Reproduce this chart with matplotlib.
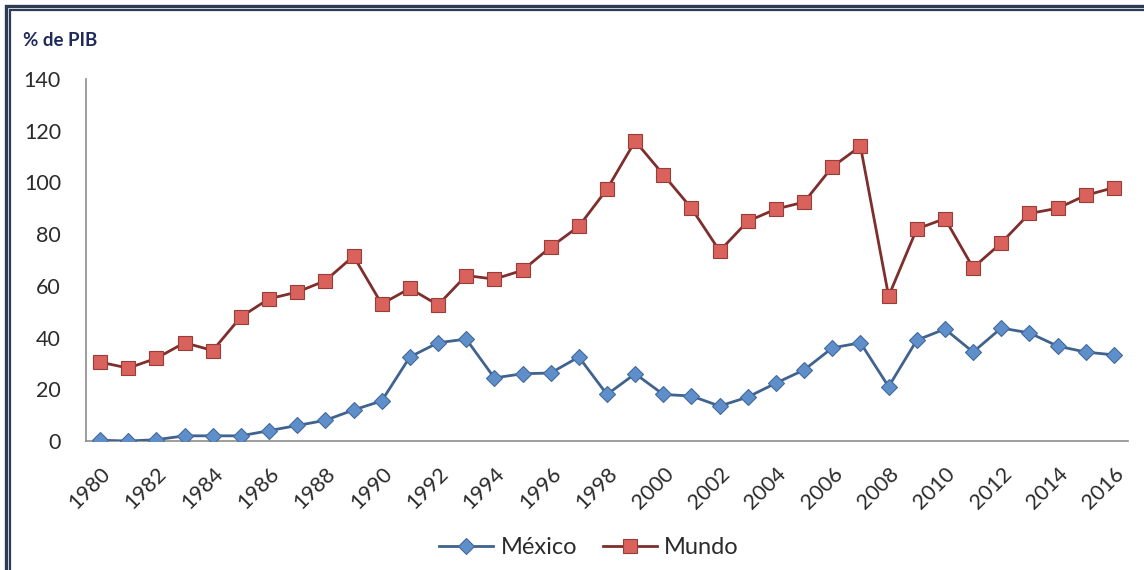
import matplotlib
matplotlib.use("Agg")
import matplotlib.pyplot as plt
from matplotlib.patches import Rectangle

years = list(range(1980, 2017))
mexico = [0.3, 0.0, 0.5, 2.0, 2.0, 2.0, 4.0, 6.0, 8.0, 12.0, 15.5, 32.5, 38.0, 39.4,
          24.4, 26.0, 26.3, 32.5, 18.0, 26.0, 18.0, 17.4, 13.5, 17.0, 22.4, 27.5,
          36.0, 38.0, 21.0, 39.0, 43.3, 34.4, 43.7, 41.8, 36.7, 34.4, 33.3]
mundo = [30.5, 28.2, 32.0, 38.0, 35.0, 48.0, 55.0, 57.6, 62.0, 71.5, 53.0, 59.0, 52.6,
         64.0, 62.6, 66.0, 75.0, 83.0, 97.4, 116.0, 103.0, 90.0, 73.5, 85.0, 89.7,
         92.4, 106.0, 114.0, 56.0, 82.0, 86.0, 67.0, 76.6, 88.0, 90.0, 95.0, 98.0]
x_ticks = list(range(1980, 2017, 2))
y_ticks = list(range(0, 141, 20))

plt.rcParams['font.family'] = ['Lato', 'DejaVu Sans']

W, H = 1144, 570
fig = plt.figure(figsize=(W / 100, H / 100), dpi=100)
fig.patch.set_facecolor('white')

# double navy frame (left and top edges visible)
navy = '#2E3B55'
for off, lw in ((6, 2.4), (10, 1.6)):
    fig.add_artist(Rectangle((off / W, -0.1), 1.2, 1 - off / H + 0.1,
                             transform=fig.transFigure, fill=False,
                             edgecolor=navy, linewidth=lw))

fig.text(23 / W, 1 - 40 / H, '% de PIB', fontsize=13.5, fontweight='bold',
         color='#1F2A5A', va='center', ha='left')

ax = fig.add_axes([86 / W, 1 - 441 / H, (1128 - 86) / W, (441 - 79) / H])
ax.set_facecolor('none')

ax.plot(years, mexico, color='#40628E', linewidth=2.0, marker='D',
        markersize=8.5, markerfacecolor='#5E8FCB', markeredgecolor='#44699A',
        markeredgewidth=0.8, label='México', zorder=3)
ax.plot(years, mundo, color='#7E2E2C', linewidth=2.0, marker='s',
        markersize=10, markerfacecolor='#D9635C', markeredgecolor='#9A3C37',
        markeredgewidth=0.8, label='Mundo', zorder=3)

ax.set_xlim(1979.5, 2016.5)
ax.set_ylim(0, 140)
ax.set_xticks(x_ticks)
ax.set_xticklabels([str(y) for y in x_ticks], rotation=45, ha='right',
                   rotation_mode='anchor')
ax.set_yticks(y_ticks)
ax.tick_params(axis='both', length=0, labelsize=15.5, labelcolor='#2B2B2B')
ax.tick_params(axis='x', pad=16)
ax.tick_params(axis='y', pad=18)

for side in ('top', 'right'):
    ax.spines[side].set_visible(False)
for side in ('left', 'bottom'):
    ax.spines[side].set_color('#8C8C8C')
    ax.spines[side].set_linewidth(1.2)

leg = fig.legend(loc='center', bbox_to_anchor=(589 / W, 1 - 548 / H), ncol=2,
                 frameon=False, fontsize=17, handlelength=2.3,
                 columnspacing=1.1, handletextpad=0.3)
for t in leg.get_texts():
    t.set_color('#2B2B2B')

fig.savefig('out.png', dpi=100, facecolor='white')
